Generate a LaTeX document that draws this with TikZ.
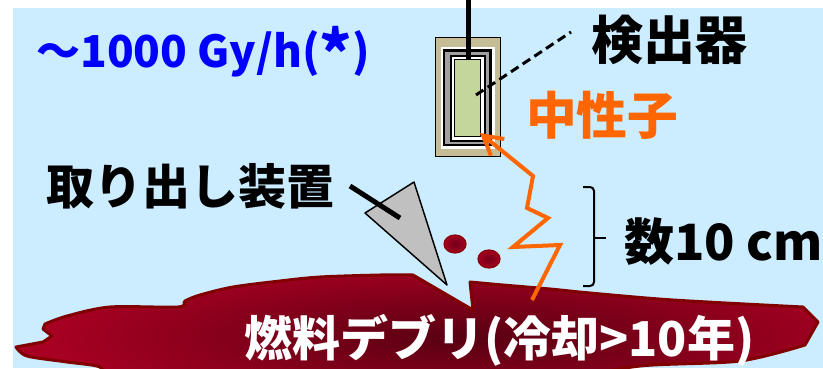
\documentclass[tikz,border=0pt]{standalone}
\usepackage{graphicx}
\usepackage{fontspec}
\setmainfont{Noto Sans CJK JP}
\usetikzlibrary{arrows.meta}

\definecolor{skyblue}{RGB}{204,236,255}
\definecolor{casingtan}{RGB}{197,189,150}
\definecolor{shieldgray}{RGB}{160,160,160}
\definecolor{sensorgreen}{RGB}{195,214,155}
\definecolor{neutronorange}{RGB}{255,102,0}
\definecolor{debrisred}{RGB}{168,0,34}
\definecolor{debrisdark}{RGB}{88,0,18}
\definecolor{debrisedge}{RGB}{128,0,0}
\definecolor{toolgray}{RGB}{192,192,192}

\tikzset{
  lbl/.style={anchor=base west, inner sep=0.75pt, font=\bfseries},
  thickline/.style={line width=3.75pt},
}

% outline of the debris pile, in picture units
\newcommand{\debrisoutline}{(413,275) -- (473,310) -- (470,282)
  -- plot[smooth,tension=0.5] coordinates {(470,282) (503,285) (550,289) (590,293) (673,300) (803,307)}
  -- (818,322) -- (805,345)
  -- plot[smooth,tension=0.5] coordinates {(805,345) (740,361) (640,366) (560,380)}
  -- (107,380)
  -- plot[smooth,tension=0.5] coordinates {(107,380) (100,367) (67,362) (27,356) (16,347)}
  -- (43,342) -- (52,336) -- (43,329) -- (45,324)
  -- plot[smooth,tension=0.5] coordinates {(45,324) (67,316) (110,307) (178,307) (185,301) (200,295) (233,287) (280,281) (320,277) (380,275) (413,275)}
  -- cycle}

\begin{document}
\begin{tikzpicture}[x=0.75pt,y=0.75pt,yscale=-1,xscale=1]
\useasboundingbox (0,0) rectangle (823,368);

%Shape: Rectangle [background]
\fill[skyblue] (13,8) rectangle (823,368);

%Shape: Debris pile
\fill[debrisred] \debrisoutline;
\begin{scope}
  \clip \debrisoutline;
  \shade[inner color=debrisdark, outer color=debrisred] (465,338) ellipse [x radius=420, y radius=80];
\end{scope}
\draw[debrisedge, line width=2.25pt, line join=round] \debrisoutline;

%Shape: Debris grains
\shade[inner color=debrisdark!70!debrisred, outer color=debrisred, draw=debrisedge!90!debrisred, line width=0.9pt] (455,244) ellipse [x radius=11, y radius=9];
\shade[inner color=debrisdark!70!debrisred, outer color=debrisred, draw=debrisedge!90!debrisred, line width=0.9pt] (489,259) ellipse [x radius=11, y radius=9];

%Shape: Detector casing and shields
\draw[line width=0.75pt, fill=casingtan] (435,37) rectangle (500,156);
\fill[white] (441,47) rectangle (495,149);
\draw[line width=1.7pt, fill=shieldgray] (443.9,50.5) rectangle (490.5,145.3);
\draw[line width=1.5pt, fill=white] (451,55.8) rectangle (485,141);
\draw[line width=1pt, fill=sensorgreen] (454.7,59.3) rectangle (480.7,136.7);

\coordinate (cabletop) at (468,0);
\coordinate (sensortop) at (468,59.3);
\coordinate (sensormid) at (476,95);
\coordinate (leadend) at (571,32);
\coordinate (sensorcorner) at (480,133);
\coordinate (emit) at (532,300);
\coordinate (armend) at (350,186);
\coordinate (gripmid) at (400,218);

%Straight Lines [cable]
\draw[thickline] (cabletop) -- (sensortop);
%Straight Lines [leader]
\draw[line width=2.25pt, dash pattern=on 6.75pt off 3.75pt] (sensormid) -- (leadend);

%Shape: Triangle [gripper]
\draw[line width=1.1pt, fill=toolgray, line join=round] (365,213) -- (414,182) -- (447,285) -- cycle;
%Straight Lines [arm]
\draw[thickline] (armend) -- (gripmid);

%Zigzag arrow [neutron path]
\draw[neutronorange, line width=3pt, -{Straight Barb[length=14pt,width=16pt]}]
  (emit) -- (560,245) -- (513,247) -- (548,218) -- (527,208) -- (533,176) -- (sensorcorner);

%Shape: Brace
\draw[line width=1.5pt, rounded corners=3pt] (583,187) -- (594,187) -- (594,286) -- (583,286);
\draw[line width=1.5pt] (594,238) -- (606,238);

% Text Node
\draw (35,67) node (doserate) [lbl, text=blue, font=\bfseries\fontsize{33}{40}\selectfont] {～1000 Gy/h(\raisebox{-0.22em}{\scalebox{1.4}{*}})};
% Text Node
\draw (590,59) node (detlabel) [lbl, font=\bfseries\fontsize{39}{46}\selectfont] {検出器};
% Text Node
\draw (525,134) node (neutron) [lbl, text=neutronorange, font=\bfseries\fontsize{38}{46}\selectfont] {中性子};
% Text Node
\draw (45,204) node (picker) [lbl, font=\bfseries\fontsize{36}{44}\selectfont] {取り出し装置};
% Text Node
\draw (623,260) node (gap) [lbl, font=\bfseries\fontsize{37.5}{45}\selectfont] {数10 cm};
% Text Node
\draw (243,356) node (debris) [lbl, text=white, font=\bfseries\fontsize{36}{44}\selectfont] {燃料デブリ(冷却>10年)};

\end{tikzpicture}
\end{document}
